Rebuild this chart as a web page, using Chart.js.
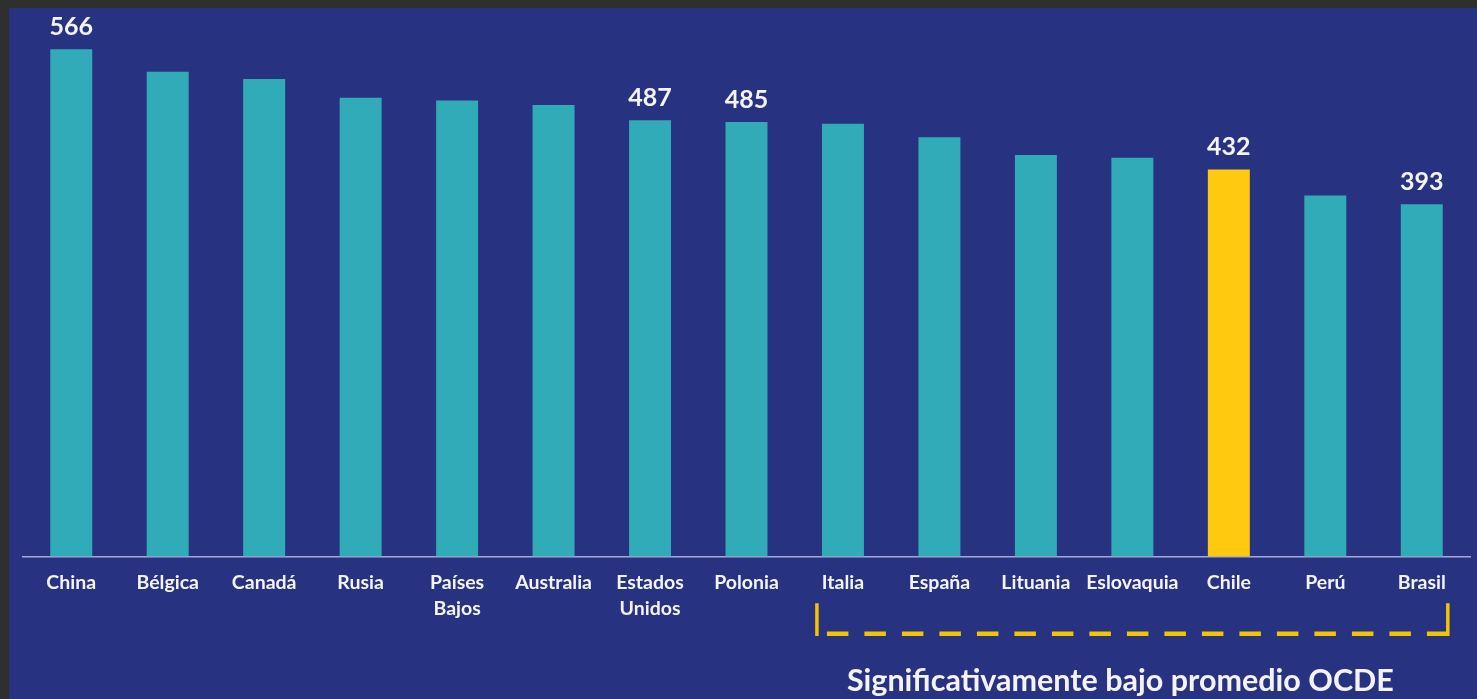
<!DOCTYPE html>
<html>
<head>
<meta charset="utf-8">
<script src="https://cdn.jsdelivr.net/npm/chart.js@4"></script>
<style>
  html, body { margin: 0; padding: 0; background: #2f2f2f; width: 1477px; height: 699px; overflow: hidden; }
  #wrap { position: absolute; left: 9px; top: 8px; width: 1468px; height: 691px; background: #273380; }
  canvas { display: block; }
</style>
</head>
<body>
<div id="wrap"><canvas id="c" width="1468" height="691"></canvas></div>
<script>
// ---- data ----
const categories = ['China', 'Bélgica', 'Canadá', 'Rusia', ['Países', 'Bajos'], 'Australia', ['Estados', 'Unidos'], 'Polonia', 'Italia', 'España', 'Lituania', 'Eslovaquia', 'Chile', 'Perú', 'Brasil'];
const scores = [566, 541, 533, 512, 509, 504, 487, 485, 483, 468, 448, 445, 432, 403, 393];
const showValue = [true, false, false, false, false, false, true, true, false, false, false, false, true, false, true];
const highlighted = 'Chile';
const bracketFrom = 'Italia';
const bracketTo = 'Brasil';
const bracketText = 'Significativamente bajo promedio OCDE';

const TEAL = '#31abb8';
const YELLOW = '#fec90f';
const BRACKET = '#f5c400';
const WHITE = '#f4f4f8';
const FONT = 'Lato, "Open Sans", sans-serif';

const catName = c => Array.isArray(c) ? c.join(' ') : c;
const barColors = categories.map(c => catName(c) === highlighted ? YELLOW : TEAL);

const valueLabels = {
  id: 'valueLabels',
  afterDatasetsDraw(chart) {
    const ctx = chart.ctx;
    const meta = chart.getDatasetMeta(0);
    ctx.save();
    ctx.font = 'bold 25px ' + FONT;
    ctx.fillStyle = WHITE;
    ctx.textAlign = 'center';
    ctx.textBaseline = 'alphabetic';
    meta.data.forEach((bar, i) => {
      if (!showValue[i]) return;
      ctx.fillText(String(scores[i]), bar.x, bar.y - 14);
    });
    ctx.restore();
  }
};

const bracket = {
  id: 'bracket',
  afterDraw(chart) {
    const ctx = chart.ctx;
    const xs = chart.scales.x;
    const names = categories.map(catName);
    const i0 = names.indexOf(bracketFrom), i1 = names.indexOf(bracketTo);
    const catW = xs.width / categories.length;
    const off = catW * 0.27;
    const xL = xs.getPixelForValue(i0) - off;
    const xR = xs.getPixelForValue(i1) + off;
    const yTop = 595.3, yLine = 625.7;
    ctx.save();
    ctx.strokeStyle = BRACKET;
    ctx.lineWidth = 3.5;
    ctx.beginPath();
    ctx.moveTo(xL, yTop); ctx.lineTo(xL, yLine + 2.2);
    ctx.moveTo(xR, yTop); ctx.lineTo(xR, yLine + 2.2);
    ctx.stroke();
    ctx.lineWidth = 4.5;
    ctx.setLineDash([21.5, 16]);
    ctx.beginPath();
    ctx.moveTo(xL + 10, yLine); ctx.lineTo(xR, yLine);
    ctx.stroke();
    ctx.setLineDash([]);
    ctx.font = 'bold 30.5px ' + FONT;
    ctx.fillStyle = WHITE;
    ctx.textAlign = 'center';
    ctx.textBaseline = 'middle';
    ctx.fillText(bracketText, (xL + xR) / 2 - 12, 673);
    ctx.restore();
  }
};

new Chart(document.getElementById('c'), {
  type: 'bar',
  data: {
    labels: categories,
    datasets: [{
      data: scores,
      backgroundColor: barColors,
      borderWidth: 0,
      barPercentage: 0.435,
      categoryPercentage: 1.0
    }]
  },
  options: {
    responsive: false,
    animation: false,
    devicePixelRatio: 1,
    layout: { padding: { left: 14, right: 7, top: 10.9, bottom: 0 } },
    plugins: { legend: { display: false }, tooltip: { enabled: false }, title: { display: false } },
    scales: {
      x: {
        grid: { display: false, drawTicks: false },
        border: { display: true, color: '#a3a9d2', width: 1.5 },
        ticks: {
          color: WHITE,
          padding: 13.5,
          maxRotation: 0,
          autoSkip: false,
          font: { family: FONT, weight: 'bold', size: 19.5, lineHeight: 26 / 19.5 }
        },
        afterFit(s) { s.height = 142.5; }
      },
      y: {
        display: false,
        min: 0,
        max: 600
      }
    }
  },
  plugins: [valueLabels, bracket]
});
</script>
</body>
</html>
